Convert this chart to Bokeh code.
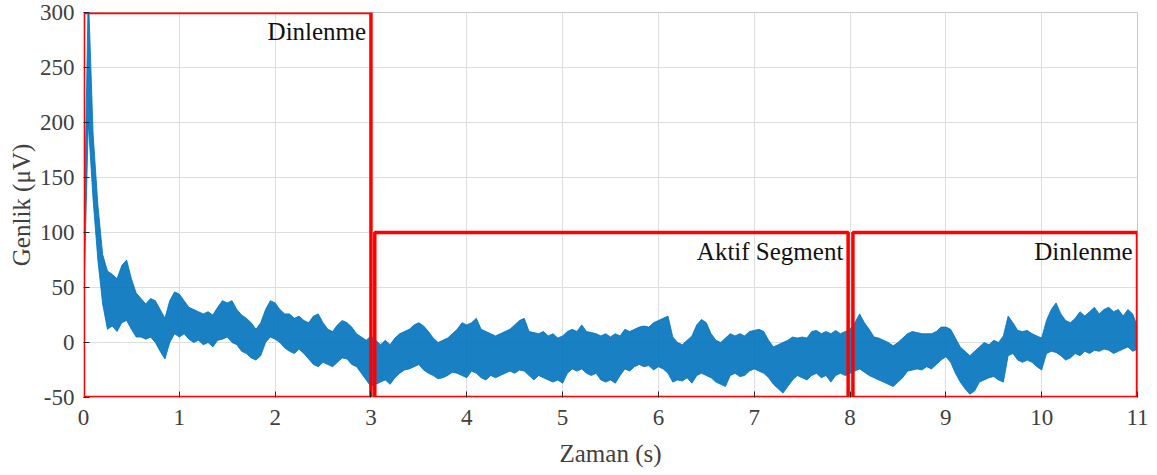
from bokeh.plotting import figure
from bokeh.models import Range1d, FixedTicker, ColumnDataSource
from bokeh.embed import file_html
from bokeh.resources import INLINE
from bokeh.core.properties import value

# ---------------- data ----------------
sample_step = 0.05  # s, spacing of the envelope readings
# upper envelope of the EMG trace (µV)
upper = [70, 320, 190, 125, 80, 65, 62, 58, 70, 75,
         58, 45, 40, 35, 40, 38, 30, 22, 38, 46,
         44, 38, 32, 30, 28, 26, 28, 25, 32, 38,
         36, 38, 30, 25, 22, 18, 12, 18, 30, 38,
         36, 30, 26, 26, 22, 24, 20, 18, 24, 26,
         18, 12, 10, 16, 20, 18, 14, 8, 5, 2,
         6, 2, -2, 2, -2, 4, 8, 10, 12, 16,
         18, 15, 10, 4, 0, 2, 4, 8, 12, 18,
         16, 18, 22, 12, 10, 8, 6, 8, 10, 12,
         16, 20, 22, 10, 9, 8, 10, 6, 8, 4,
         6, 10, 12, 10, 16, 10, 9, 8, 6, 8,
         5, 8, 6, 12, 10, 12, 14, 15, 14, 18,
         20, 22, 24, 5, 0, -2, 2, 6, 16, 21,
         18, 8, 2, 0, 4, 8, 6, 8, 6, 10,
         11, 12, 10, 2, -4, -2, 0, 2, 5, 4,
         5, 4, 10, 11, 8, 10, 8, 11, 8, 10,
         12, 18, 26, 18, 12, 5, 4, 2, 0, -3,
         0, 4, 8, 10, 9, 8, 8, 8, 10, 14,
         14, 12, 4, -4, -8, -12, -8, -4, 0, -2,
         2, 0, 6, 24, 18, 11, 10, 11, 8, 6,
         4, 20, 30, 36, 26, 20, 18, 22, 28, 24,
         28, 32, 26, 30, 32, 28, 30, 24, 30, 26,
         14]
# lower envelope of the EMG trace (µV)
lower = [25, 200, 130, 75, 35, 12, 15, 10, 18, 20,
         12, 5, 5, 3, 5, 0, -8, -15, 0, 8,
         5, 8, 3, 0, 2, -2, 0, -4, 2, 3,
         5, 0, -2, -8, -10, -14, -16, -12, 0, 5,
         3, 0, -5, -8, -10, -6, -10, -15, -20, -22,
         -18, -20, -22, -18, -14, -15, -20, -22, -28, -34,
         -40, -38, -36, -34, -38, -32, -28, -25, -24, -22,
         -20, -25, -28, -30, -33, -32, -30, -27, -28, -30,
         -32, -26, -28, -32, -34, -30, -32, -30, -28, -26,
         -28, -25, -26, -30, -34, -30, -32, -34, -36, -34,
         -37, -28, -24, -26, -24, -28, -30, -28, -34, -36,
         -34, -37, -30, -24, -26, -22, -20, -22, -21, -25,
         -22, -24, -28, -36, -34, -35, -32, -37, -30, -28,
         -30, -32, -36, -38, -40, -30, -28, -31, -30, -26,
         -24, -26, -28, -32, -38, -42, -46, -40, -34, -30,
         -32, -34, -30, -28, -32, -30, -36, -30, -28, -30,
         -28, -26, -24, -27, -30, -32, -34, -36, -38, -40,
         -36, -32, -26, -25, -24, -25, -22, -24, -20, -16,
         -13, -18, -28, -36, -42, -47, -44, -36, -34, -32,
         -31, -34, -36, -12, -10, -16, -18, -16, -18, -22,
         -25, -10, -8, -9, -12, -16, -14, -10, -12, -8,
         -10, -7, -8, -6, -7, -10, -8, -6, -4, -8,
         -6]
time_s = [round(i * sample_step, 2) for i in range(len(upper))]

x_ticks = list(range(0, 12))
y_ticks = [-50, 0, 50, 100, 150, 200, 250, 300]

# segment boxes: (start s, end s, bottom µV, top µV) and their titles
seg_left = [0.0, 3.04, 8.03]
seg_right = [3.0, 7.98, 11.0]
seg_bottom = [-50, -50, -50]
seg_top = [300, 100, 100]
seg_names = ["Dinlenme", "Aktif Segment", "Dinlenme"]

# ---------------- figure ----------------
SERIF = "Liberation Serif"
GREY = "#404040"

p = figure(width=1157, height=475,
           x_range=Range1d(0, 11), y_range=Range1d(-50, 300),
           output_backend="svg", toolbar_location=None,
           min_border_left=83, min_border_right=20,
           min_border_top=12, min_border_bottom=78)

p.background_fill_color = "white"
p.border_fill_color = "white"
p.outline_line_color = "#c8c8c8"
p.outline_line_width = 1

for ax in (p.xaxis[0], p.yaxis[0]):
    ax.major_label_text_font = SERIF
    ax.major_label_text_font_size = "23px"
    ax.major_label_text_color = GREY
    ax.axis_label_text_font = SERIF
    ax.axis_label_text_font_size = "25px"
    ax.axis_label_text_font_style = "normal"
    ax.axis_label_text_color = GREY
    ax.major_tick_in = 6
    ax.major_tick_out = 0
    ax.minor_tick_line_color = None
    ax.major_tick_line_color = "#262626"
    ax.axis_line_color = "#c8c8c8"

p.xaxis.ticker = FixedTicker(ticks=x_ticks)
p.yaxis.ticker = FixedTicker(ticks=y_ticks)
p.yaxis.major_label_overrides = {v: str(v) for v in y_ticks}
p.xaxis.axis_label = "Zaman (s)"
p.yaxis.axis_label = "Genlik (\u03bcV)"
p.xaxis.major_label_standoff = 12
p.yaxis.major_label_standoff = 9
p.xaxis.axis_label_standoff = 12
p.yaxis.axis_label_standoff = 2

p.xgrid.ticker = FixedTicker(ticks=x_ticks)
p.ygrid.ticker = FixedTicker(ticks=y_ticks)
p.grid.grid_line_color = "#dedede"
p.grid.grid_line_width = 1

# signal band
src = ColumnDataSource(dict(t=time_s, lo=lower, hi=upper))
p.varea(x="t", y1="lo", y2="hi", source=src, fill_color="#0072BD", fill_alpha=0.9)
p.line(x="t", y="hi", source=src, line_color="#0072BD", line_width=1, line_alpha=0.8)
p.line(x="t", y="lo", source=src, line_color="#0072BD", line_width=1, line_alpha=0.8)

# segment boxes
box_src = ColumnDataSource(dict(left=seg_left, right=seg_right, bottom=seg_bottom, top=seg_top))
p.quad(left="left", right="right", bottom="bottom", top="top", source=box_src,
       fill_color=None, line_color="#ff0000", line_width=3.5)

# segment titles (placed at top-right inside each box)
lab_x = [r - 0.05 for r in seg_right]
lab_y = [t - 17 for t in seg_top]
lab_src = ColumnDataSource(dict(x=lab_x, y=lab_y, txt=seg_names))
p.text(x="x", y="y", text="txt", source=lab_src, text_font=value(SERIF),
       text_font_size="25px", text_color="#111111",
       text_align="right", text_baseline="middle")

open("out.html", "w").write(file_html(p, INLINE))
